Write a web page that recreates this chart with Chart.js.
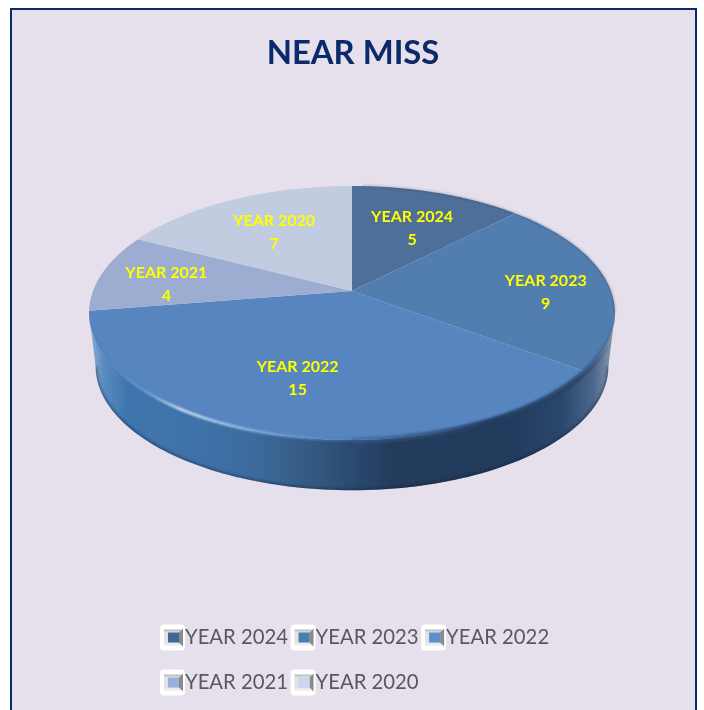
<!DOCTYPE html>
<html><head><meta charset="utf-8">
<script src="https://cdn.jsdelivr.net/npm/chart.js@4"></script>
<style>
html,body{margin:0;padding:0;background:#fff;width:704px;height:710px;overflow:hidden}
#panel{position:absolute;left:10px;top:8px;width:683px;height:720px;background:#E6E0EC;border:2px solid #0B2A6B}
canvas{position:absolute;left:0;top:0}
</style></head><body>
<div id="panel"></div>
<canvas id="c" width="704" height="710"></canvas>
<script>
const categories = ["YEAR 2024","YEAR 2023","YEAR 2022","YEAR 2021","YEAR 2020"];
const values = [5,9,15,4,7];
const faceColors = ["#4E6F99","#527DAF","#5685BF","#9DADD1","#C1CCE0"];
const swatchColors = ["#3F6797","#4A7DB8","#5A90D0","#96B0E0","#C8D6EE"];
const chartTitle = "NEAR MISS";

// perspective of the pie's top face: unit circle -> page
const P = {cx:352, cy:291, a:259, b:123.2, k:-0.173, wallScale:0.975, wallDrop:54};
// label anchors: radial factor of the slice's mid angle + fine nudge
const labelRadius = [0.61,0.75,0.64,0.72,0.62];
const labelNudge = [[5,1],[2,9],[-11,1],[-5,7],[-1,1]];

function proj(theta, r){
  r = r===undefined?1:r;
  const X=Math.sin(theta)*r, Y=-Math.cos(theta)*r, w=1+P.k*Y;
  return [P.cx+P.a*X/w, P.cy+P.b*Y/w];
}
function wall(theta){
  const p=proj(theta);
  return [P.cx+(p[0]-P.cx)*P.wallScale, P.cy+(p[1]-P.cy)*P.wallScale+P.wallDrop];
}
function legendIcon(g,x,y,color){
  g.save(); g.translate(x,y);
  g.fillStyle='#fff'; g.beginPath(); g.roundRect(0,0,25,26,4); g.fill();
  g.fillStyle='#e2e2e2'; g.fillRect(4,5,17,16);
  g.fillStyle='#c4c4c4'; g.fillRect(4,5,17,2);
  g.fillStyle='#f0f0f0'; g.fillRect(4,19,17,2);
  g.fillStyle='#8a8a8a'; g.beginPath(); g.moveTo(19,8); g.lineTo(23,4); g.lineTo(23,22); g.lineTo(19,18); g.fill();
  g.fillStyle=color; g.fillRect(8,8,11,10);
  g.restore();
}
function trace(ctx,fn,lo,hi,N){
  ctx.beginPath();
  for(let i=0;i<=N;i++){const p=fn(lo+(hi-lo)*i/N); i?ctx.lineTo(p[0],p[1]):ctx.moveTo(p[0],p[1]);}
}
const pie3d = {
  id:'pie3d',
  afterLayout(chart){ chart.titleBlock.left-=6.5; chart.titleBlock.right-=6.5; },
  afterDraw(chart){
    chart.legend.legendHitBoxes.forEach((b,i)=>legendIcon(chart.ctx,b.left-9.5,b.top+b.height/2-13,swatchColors[i]));
  },
  beforeDatasetsDraw(chart){
    const ctx=chart.ctx, arcs=chart.getDatasetMeta(0).data, N=120;
    // side wall: between the two outermost points of the top rim
    const lo=Math.acos(P.k), hi=2*Math.PI-lo;
    ctx.save();
    trace(ctx,proj,lo,hi,N);
    for(let i=N;i>=0;i--){const p=wall(lo+(hi-lo)*i/N); ctx.lineTo(p[0],p[1]);}
    ctx.closePath();
    const g=ctx.createLinearGradient(90,0,614,0);
    [[0,'#8FAFD3'],[.025,'#5C8CC0'],[.07,'#3F75AE'],[.2,'#3F72AA'],[.32,'#3C6A9D'],[.43,'#34587F'],[.5,'#2A4A70'],[.58,'#233B5C'],[.8,'#223A5C'],[.9,'#2A476C'],[.96,'#4A678B'],[1,'#8A9BB0']]
      .forEach(s=>g.addColorStop(s[0],s[1]));
    ctx.fillStyle=g; ctx.fill();
    // darker foot of the wall
    ctx.clip();
    ctx.filter='blur(1.5px)';
    trace(ctx,wall,lo,hi,N);
    ctx.strokeStyle='rgba(15,30,55,.5)'; ctx.lineWidth=3; ctx.stroke();
    ctx.restore();
    // top face slices, angles from the library's arc elements
    arcs.forEach(el=>{
      const t0=el.startAngle+Math.PI/2, t1=el.endAngle+Math.PI/2;
      ctx.beginPath(); ctx.moveTo(P.cx,P.cy);
      for(let i=0;i<=N;i++){const p=proj(t0+(t1-t0)*i/N); ctx.lineTo(p[0],p[1]);}
      ctx.closePath();
      ctx.fillStyle=el.options.backgroundColor; ctx.fill();
    });
    // soft shading on the back rim
    ctx.save();
    ctx.filter='blur(1px)';
    trace(ctx,proj,0.05,1.75,N);
    ctx.strokeStyle='rgba(40,50,70,.3)'; ctx.lineWidth=1.5; ctx.stroke();
    ctx.restore();
    // bevel: dark on the front right, highlight on the front left
    ctx.save();
    ctx.filter='blur(1.2px)';
    trace(ctx,proj,lo+0.12,Math.PI,N);
    const d=ctx.createLinearGradient(352,0,614,0);
    d.addColorStop(0,'rgba(60,100,150,.5)'); d.addColorStop(.5,'rgba(35,60,95,.95)'); d.addColorStop(.85,'rgba(40,65,100,.85)'); d.addColorStop(1,'rgba(40,65,100,0)');
    ctx.strokeStyle=d; ctx.lineWidth=6; ctx.stroke();
    trace(ctx,proj,Math.PI,hi-0.08,N);
    const h=ctx.createLinearGradient(90,0,352,0);
    [[0,'rgba(60,110,170,0)'],[.08,'rgba(70,120,180,.5)'],[.2,'rgba(110,160,215,.6)'],[.35,'rgba(225,238,252,.95)'],[.55,'rgba(170,205,240,.85)'],[.8,'rgba(110,155,210,.7)'],[1,'rgba(70,115,170,.6)']]
      .forEach(s=>h.addColorStop(s[0],s[1]));
    ctx.strokeStyle=h; ctx.lineWidth=2.5; ctx.stroke();
    ctx.restore();
    // value labels
    ctx.save();
    ctx.fillStyle='#FFFF00'; ctx.font='bold 16px Lato'; ctx.textAlign='center'; ctx.textBaseline='middle';
    arcs.forEach((el,i)=>{
      const mid=(el.startAngle+el.endAngle)/2+Math.PI/2, p=proj(mid,labelRadius[i]);
      const x=p[0]+labelNudge[i][0], y=p[1]+labelNudge[i][1];
      ctx.fillText(categories[i],x,y-11.5);
      ctx.fillText(String(values[i]),x,y+11.5);
    });
    ctx.restore();
    return false;
  }
};
new Chart(document.getElementById('c'),{
  type:'pie',
  data:{labels:categories,datasets:[{data:values,backgroundColor:faceColors,borderWidth:0}]},
  plugins:[pie3d],
  options:{
    responsive:false,animation:false,
    layout:{padding:{left:157.5,right:142.5,top:0,bottom:1}},
    plugins:{
      tooltip:{enabled:false},
      title:{display:true,text:chartTitle,color:'#0B2A6B',font:{family:'Lato',size:32.8,weight:'bold'},padding:{top:34,bottom:19}},
      legend:{position:'bottom',align:'start',
        labels:{color:'#595959',font:{family:'Lato',size:20.3},padding:12,boxWidth:5.35,boxHeight:33,
          generateLabels:()=>categories.map((t,i)=>({text:t,fillStyle:'rgba(0,0,0,0)',strokeStyle:'rgba(0,0,0,0)',fontColor:'#595959',hidden:false,index:i,lineWidth:0}))}
      }
    }
  }
});
</script>
</body></html>
